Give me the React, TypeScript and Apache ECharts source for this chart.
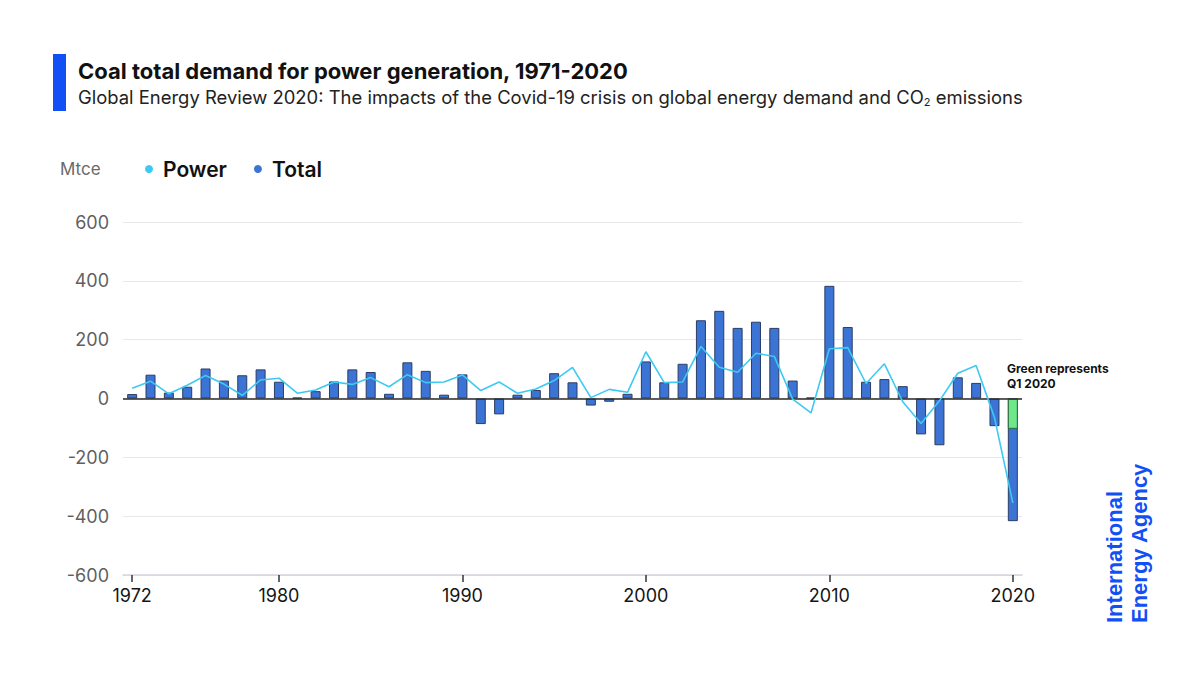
import React, { useEffect, useRef } from "react";
import * as echarts from "echarts";

// Annual change in coal demand, Mtce
const years: string[] = [
  "1972", "1973", "1974", "1975", "1976", "1977", "1978", "1979", "1980", "1981",
  "1982", "1983", "1984", "1985", "1986", "1987", "1988", "1989", "1990", "1991",
  "1992", "1993", "1994", "1995", "1996", "1997", "1998", "1999", "2000", "2001",
  "2002", "2003", "2004", "2005", "2006", "2007", "2008", "2009", "2010", "2011",
  "2012", "2013", "2014", "2015", "2016", "2017", "2018", "2019", "2020",
];

const totalDemand: number[] = [
  15, 81, 20, 40, 102, 61, 79, 99, 57, 3,
  25, 58, 99, 90, 16, 123, 94, 13, 82, -87,
  -54, 13, 29, 86, 55, -24, -11, 16, 126, 55,
  118, 266, 298, 240, 261, 240, 61, 3, 383, 243,
  57, 66, 42, -122, -159, 72, 53, -94, -417,
];

const powerDemand: number[] = [
  35, 59, 16, 45, 78, 49, 11, 63, 69, 18,
  29, 56, 48, 71, 40, 81, 54, 56, 80, 27,
  56, 18, 32, 61, 106, 3, 31, 21, 159, 54,
  56, 177, 106, 89, 154, 143, -2, -49, 169, 173,
  51, 118, -11, -85, -8, 86, 112, -65, -355,
];

// First-quarter part of the 2020 decline
const q1Demand: (number | null)[] = years.map((y) => (y === "2020" ? -103 : null));

const labelledYears: string[] = ["1972", "1980", "1990", "2000", "2010", "2020"];

const FONT = "Inter, 'Noto Sans', sans-serif";
const BAR_BLUE = "#3b74d4";
const LINE_BLUE = "#3ccaf2";
const Q1_GREEN = "#6fe88c";
const IEA_BLUE = "#1150f5";

export default function App() {
  const ref = useRef<HTMLDivElement>(null);

  useEffect(() => {
    if (!ref.current) return;
    const chart = echarts.init(ref.current, undefined, { renderer: "svg" });
    const showYear = (_i: number, v: string) => labelledYears.includes(v);

    chart.setOption({
      animation: false,
      backgroundColor: "#ffffff",
      textStyle: { fontFamily: FONT },
      grid: { left: 123, right: 178, top: 222, bottom: 100, containLabel: false },
      legend: {
        left: 145,
        top: 156,
        padding: 0,
        icon: "circle",
        itemWidth: 8,
        itemHeight: 8,
        itemGap: 27,
        data: ["Power", "Total"],
        itemStyle: { borderWidth: 0 },
        textStyle: {
          fontFamily: FONT,
          fontSize: 21,
          fontWeight: 600,
          color: "#111111",
          lineHeight: 26,
          padding: [0, 0, 0, 5],
        },
      },
      xAxis: {
        type: "category",
        data: years,
        boundaryGap: true,
        axisLine: { onZero: false, lineStyle: { color: "#d3d3dc", width: 1.5 } },
        axisTick: {
          show: true,
          alignWithLabel: true,
          length: 7,
          lineStyle: { color: "#333333", width: 1.5 },
        },
        axisLabel: {
          interval: showYear,
          margin: 11,
          fontFamily: FONT,
          fontSize: 18,
          color: "#151515",
        },
        splitLine: { show: false },
      },
      yAxis: {
        type: "value",
        min: -600,
        max: 600,
        interval: 200,
        axisLine: { show: false },
        axisTick: { show: false },
        axisLabel: { margin: 14, fontFamily: FONT, fontSize: 18, color: "#5f5f5f" },
        splitLine: { lineStyle: { color: "#e8e8ec", width: 1 } },
      },
      series: [
        {
          name: "Total",
          type: "bar",
          data: totalDemand,
          barWidth: 10,
          barGap: "-100%",
          itemStyle: { color: BAR_BLUE, borderColor: "#2b3d63", borderWidth: 1 },
          markLine: {
            silent: true,
            symbol: ["none", "none"],
            label: { show: false },
            lineStyle: { color: "#2a2a2a", width: 1.5, type: "solid" },
            data: [{ yAxis: 0 }],
          },
        },
        {
          name: "Q1 2020",
          type: "bar",
          data: q1Demand,
          barWidth: 10,
          barGap: "-100%",
          itemStyle: { color: Q1_GREEN, borderColor: "#2f6b3c", borderWidth: 1 },
        },
        {
          name: "Power",
          type: "line",
          data: powerDemand,
          symbol: "none",
          lineStyle: { color: LINE_BLUE, width: 1.6 },
          itemStyle: { color: LINE_BLUE },
          z: 5,
        },
      ],
      graphic: [
        { type: "rect", left: 53, top: 54, shape: { width: 13, height: 57 }, style: { fill: IEA_BLUE } },
        {
          type: "text",
          left: 78,
          top: 60,
          style: {
            text: "Coal total demand for power generation, 1971-2020",
            font: `bold 22px ${FONT}`,
            fill: "#111111",
          },
        },
        {
          type: "text",
          left: 78,
          top: 88,
          style: {
            text: "Global Energy Review 2020: The impacts of the Covid-19 crisis on global energy demand and CO{sub|2} emissions",
            font: `18.45px ${FONT}`,
            fill: "#222222",
            rich: {
              sub: { fontSize: 11, fontFamily: FONT, fill: "#222222", padding: [10, 0, 0, 0] },
            },
          },
        },
        {
          type: "text",
          left: 60,
          top: 160,
          style: { text: "Mtce", font: `17px ${FONT}`, fill: "#6a6a6a" },
        },
        {
          type: "text",
          left: 1007,
          top: 361,
          style: {
            text: "Green represents\nQ1 2020",
            font: `bold 12px ${FONT}`,
            lineHeight: 15,
            fill: "#111111",
          },
        },
        {
          type: "text",
          x: 1102,
          y: 623,
          rotation: Math.PI / 2,
          style: {
            text: "International\nEnergy Agency",
            font: `bold 22px 'Liberation Sans', Arial, sans-serif`,
            lineHeight: 25,
            fill: IEA_BLUE,
            align: "left",
            verticalAlign: "top",
          },
        },
      ],
    });

    return () => chart.dispose();
  }, []);

  return (
    <div
      ref={ref}
      style={{ position: "fixed", left: 0, top: 0, width: 1200, height: 675, background: "#fff" }}
    />
  );
}
